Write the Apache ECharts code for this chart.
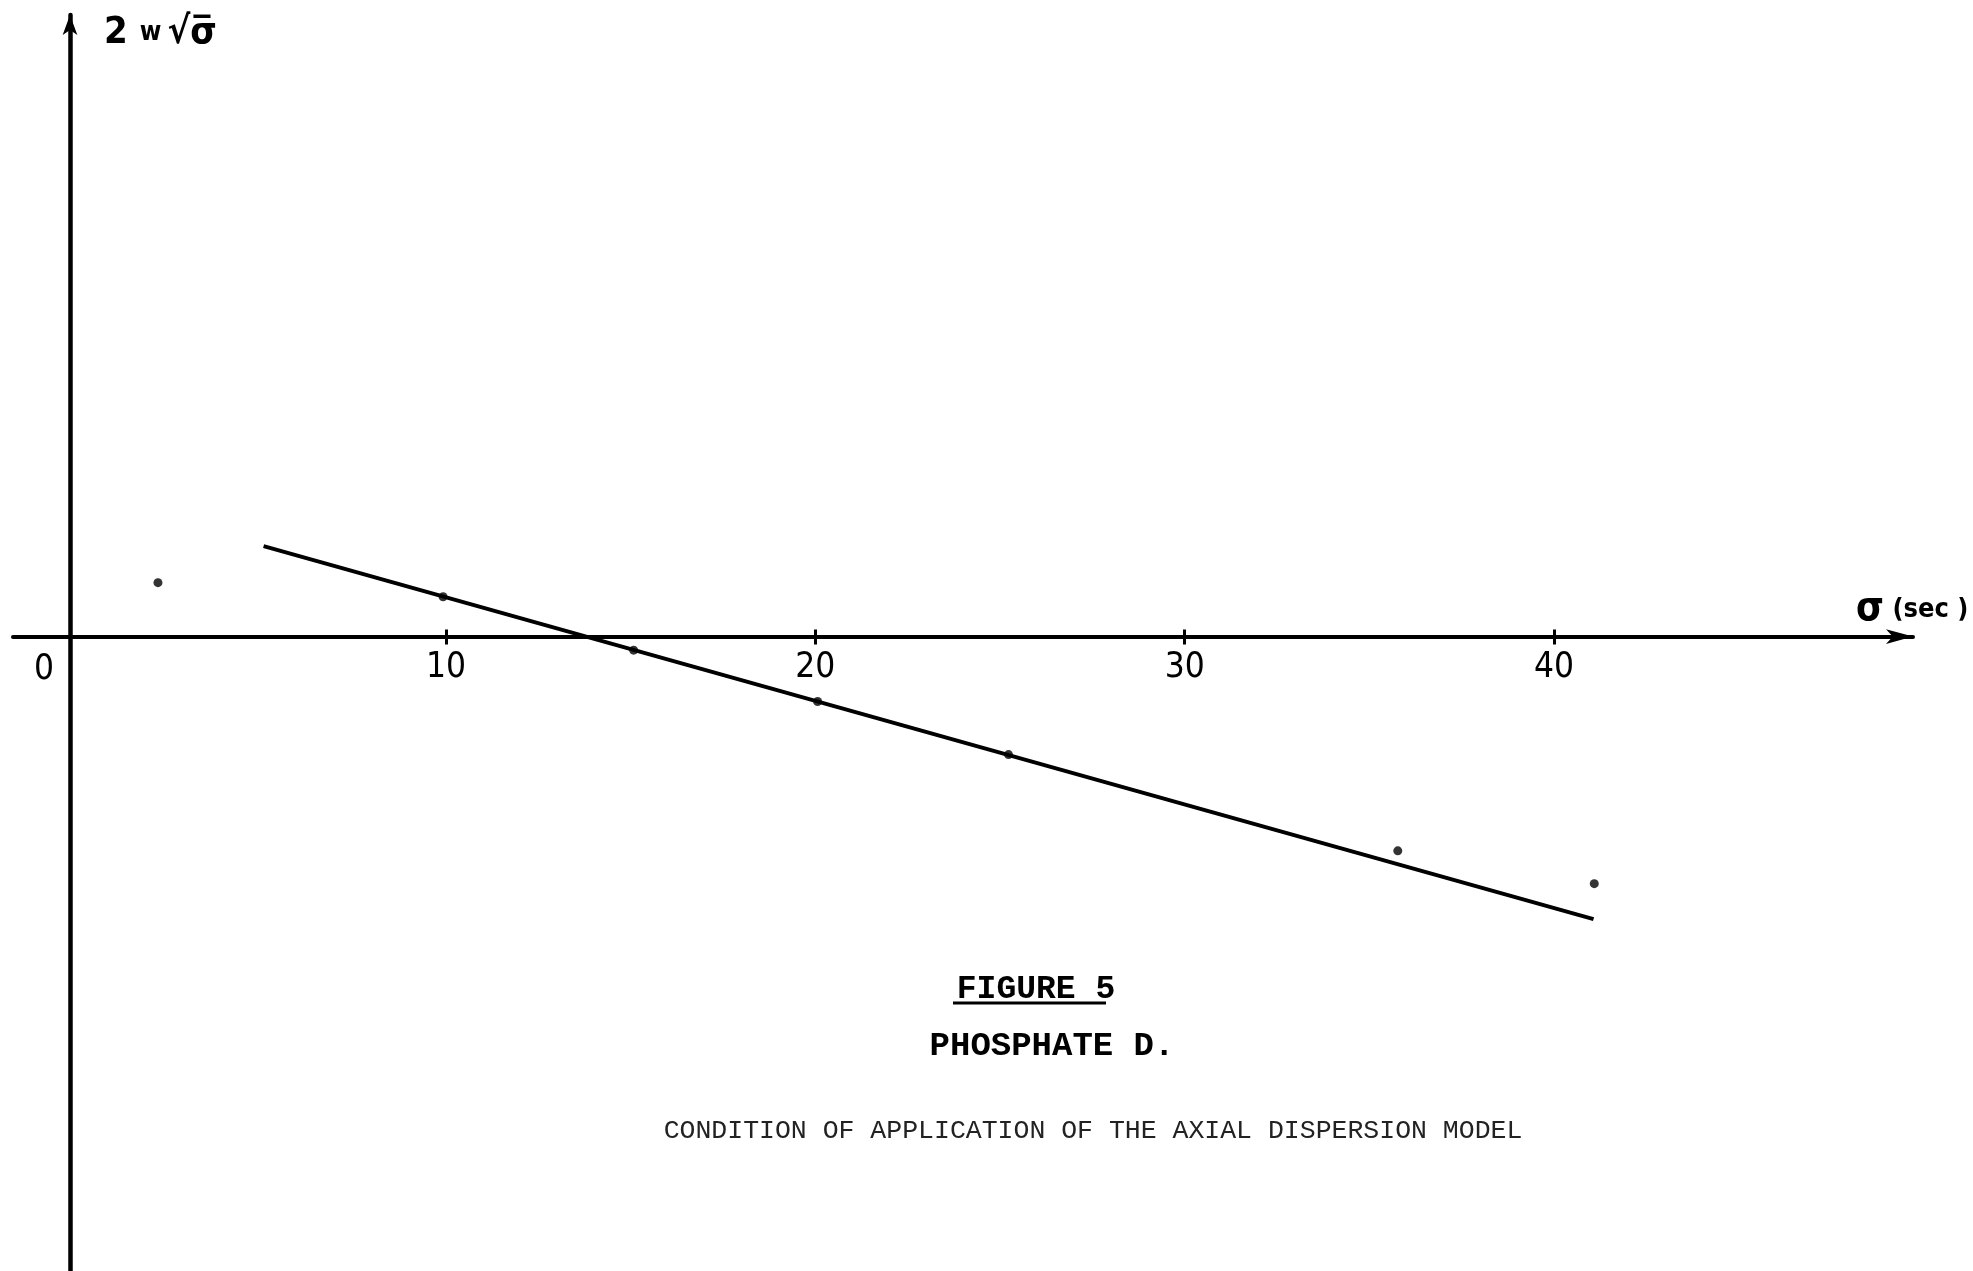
<!DOCTYPE html>
<html>
<head>
<meta charset="utf-8">
<script src="https://cdn.jsdelivr.net/npm/echarts@6/dist/echarts.min.js"></script>
<style>
  html, body { margin: 0; padding: 0; background: #ffffff; }
  #chart { width: 1973px; height: 1271px; }
</style>
</head>
<body>
<div id="chart"></div>
<script>
// Tick labels along the sigma axis
const xTicks = [10, 20, 30, 40];

// Measured points: sigma (sec) against 2w·sqrt(sigma)
const sigmaSec = [2.20, 9.92, 15.08, 20.06, 25.23, 35.77, 41.09];
const twoWRootSigma = [1.46, 1.08, -0.37, -1.76, -3.20, -5.81, -6.70];

// Straight line drawn through the points
const fitSigma = [5.06, 41.07];
const fitValue = [2.45, -7.66];

// Captions
const captionFigure = 'FIGURE 5';
const captionSample = 'PHOSPHATE D.';
const captionNote = 'CONDITION OF APPLICATION OF THE AXIAL DISPERSION MODEL';

const pointData = sigmaSec.map((s, i) => [s, twoWRootSigma[i]]);
const fitData = fitSigma.map((s, i) => [s, fitValue[i]]);

const tickFont = '"Liberation Sans Narrow", "DejaVu Sans Condensed", "Liberation Sans", sans-serif';
const monoFont = '"Liberation Mono", "DejaVu Sans Mono", monospace';

const X_MIN = -1.725;
const X_MAX = 49.72;
const Y_MIN = -17.2;
const Y_MAX = 16.85;
const GRID_TOP = 15;
const GRID_H = 1256;
// pixel row of y = 0 inside the grid, used to lift the second x axis onto it
const zeroRow = GRID_TOP + (Y_MAX / (Y_MAX - Y_MIN)) * GRID_H;

const chart = echarts.init(document.getElementById('chart'), null, { renderer: 'canvas' });

chart.setOption({
  backgroundColor: '#ffffff',
  animation: false,
  grid: {
    left: 13, right: 60, top: GRID_TOP, bottom: 0,
    containLabel: false,
    outerBoundsMode: 'none'
  },
  xAxis: [
    {
      type: 'value',
      min: X_MIN,
      max: X_MAX,
      splitLine: { show: false },
      axisLine: {
        onZero: true,
        lineStyle: { color: '#000', width: 4 },
        symbol: ['none', 'arrow'],
        symbolSize: [11, 27]
      },
      axisTick: {
        show: true,
        customValues: xTicks,
        length: 8,
        lineStyle: { color: '#000', width: 3 }
      },
      axisLabel: { show: false }
    },
    {
      // upper half of the crossing tick marks
      type: 'value',
      position: 'top',
      offset: -(zeroRow - GRID_TOP),
      min: X_MIN,
      max: X_MAX,
      splitLine: { show: false },
      axisLine: { show: false, onZero: false },
      axisTick: {
        show: true,
        customValues: xTicks,
        length: 7,
        lineStyle: { color: '#000', width: 3 }
      },
      axisLabel: { show: false }
    }
  ],
  yAxis: {
    type: 'value',
    min: Y_MIN,
    max: Y_MAX,
    offset: -57,
    splitLine: { show: false },
    axisTick: { show: false },
    axisLabel: { show: false },
    axisLine: {
      onZero: false,
      lineStyle: { color: '#000', width: 4.5 },
      symbol: ['none', 'arrow'],
      symbolSize: [11, 20]
    }
  },
  title: [
    {
      text: captionFigure,
      left: 1031, top: 968, textAlign: 'center',
      textStyle: { fontFamily: monoFont, fontWeight: 'bold', fontSize: 33, color: '#000' }
    },
    {
      text: captionSample,
      left: 1047, top: 1024, textAlign: 'center',
      textStyle: { fontFamily: monoFont, fontWeight: 'bold', fontSize: 34, color: '#000' }
    },
    {
      text: captionNote,
      left: 1088, top: 1112, textAlign: 'center',
      textStyle: { fontFamily: monoFont, fontWeight: 'normal', fontSize: 26.5, color: '#222' }
    }
  ],
  graphic: [
    {
      id: 'figUnderline',
      type: 'line',
      shape: { x1: 953, y1: 1003, x2: 1106, y2: 1003 },
      style: { stroke: '#000', lineWidth: 3 }
    },
    {
      id: 'yName',
      type: 'text',
      left: 104, top: 14,
      style: {
        text: '{a|2}{b|w}{c|√σ̅}',
        rich: {
          a: { fontFamily: tickFont, fontWeight: 'bold', fontSize: 38, fill: '#000', padding: [0, 12, 0, 0] },
          b: { fontFamily: tickFont, fontWeight: 'bold', fontSize: 26, fill: '#000', padding: [0, 6, 0, 0] },
          c: { fontFamily: tickFont, fontWeight: 'bold', fontSize: 38, fill: '#000' }
        }
      }
    },
    {
      id: 'xName',
      type: 'text',
      left: 1856, top: 590,
      style: {
        text: '{a|σ}{b| (sec )}',
        rich: {
          a: { fontFamily: tickFont, fontWeight: 'bold', fontSize: 40, fill: '#000' },
          b: { fontFamily: tickFont, fontWeight: 'bold', fontSize: 27, fill: '#000' }
        }
      }
    },
    {
      id: 'origin',
      type: 'text',
      x: 44, y: 670,
      style: {
        text: '0', fontFamily: tickFont, fontSize: 35, fill: '#000',
        align: 'center', verticalAlign: 'middle'
      }
    }
  ],
  series: [
    {
      type: 'line',
      data: fitData,
      showSymbol: false,
      lineStyle: { color: '#000', width: 4 },
      z: 3
    },
    {
      type: 'scatter',
      data: pointData,
      symbol: 'circle',
      symbolSize: 9,
      itemStyle: { color: '#000' },
      z: 4
    }
  ]
});

// Tick numbers placed under the sigma axis from the axis scale itself
const tickLabels = xTicks.map((v) => {
  const p = chart.convertToPixel({ xAxisIndex: 0, yAxisIndex: 0 }, [v, 0]);
  return {
    id: 'tick' + v,
    type: 'text',
    x: p[0],
    y: p[1] + 31,
    style: {
      text: String(v), fontFamily: tickFont, fontSize: 35, fill: '#000',
      align: 'center', verticalAlign: 'middle'
    }
  };
});
chart.setOption({ graphic: tickLabels });
</script>
</body>
</html>
